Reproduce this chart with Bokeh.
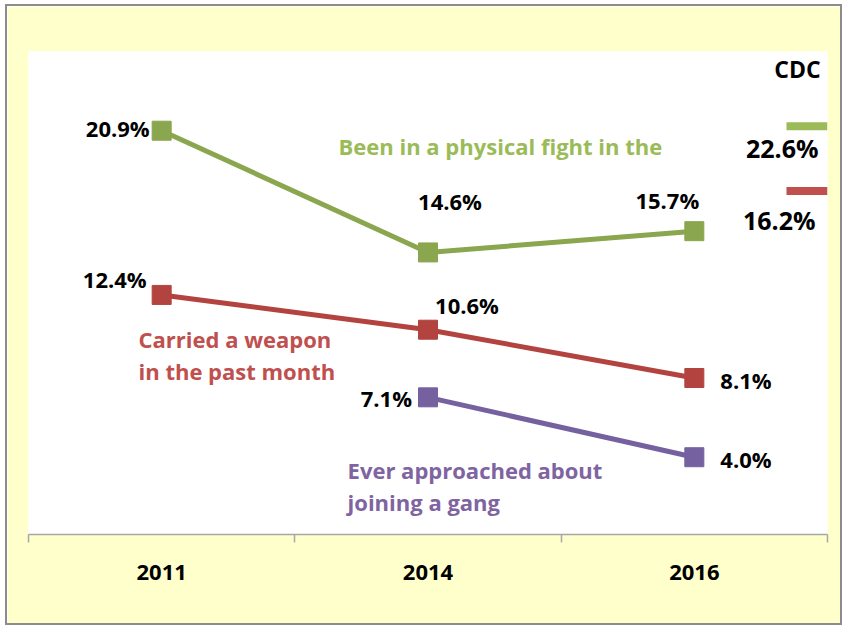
from bokeh.plotting import figure
from bokeh.models import Range1d, LinearAxis, FixedTicker, Label
from bokeh.core.properties import value
from bokeh.embed import file_html
from bokeh.resources import INLINE

years = ["2011", "2014", "2016"]
fight = [20.9, 14.6, 15.7]
weapon = [12.4, 10.6, 8.1]
gang_years = ["2014", "2016"]
gang = [7.1, 4.0]
cdc_labels = ["22.6%", "16.2%"]
cdc_values = [22.6, 16.2]

GREEN, GREEN_T = "#8AA64E", "#9BBB59"
RED, RED_T = "#B3433F", "#C0504D"
PURPLE, PURPLE_T = "#7560A0", "#8064A2"
FONT = "Open Sans"

# category -> slot centre on a numeric axis (one slot per year)
pos = {y: i + 0.5 for i, y in enumerate(years)}
centers = [pos[y] for y in years]
edges = [i for i in range(len(years) + 1)]

p = figure(width=837, height=621, x_range=Range1d(0, len(years)), y_range=Range1d(0, 25),
           output_backend="svg", toolbar_location=None, x_axis_location=None, y_axis_location=None,
           min_border_left=21, min_border_right=17, min_border_top=45, min_border_bottom=93)
p.margin = (4, 0, 0, 5)
p.styles = {"border": "2px solid #8C8C8C"}
p.background_fill_color = "white"
p.border_fill_color = "#FFFFCC"
p.outline_line_color = None
p.xgrid.visible = False
p.ygrid.visible = False

xaxis = LinearAxis(ticker=FixedTicker(ticks=centers, minor_ticks=edges),
                   major_label_overrides={c: y for c, y in zip(centers, years)},
                   major_tick_out=0, major_tick_in=0,
                   minor_tick_out=8, minor_tick_in=0,
                   minor_tick_line_color="#A6A6A6", minor_tick_line_width=1.5,
                   axis_line_color="#A6A6A6", axis_line_width=1.5,
                   major_label_text_font=FONT, major_label_text_font_style="bold",
                   major_label_text_font_size="22px", major_label_text_color="black",
                   major_label_standoff=22)
p.add_layout(xaxis, "below")

for ys_cat, ys, c in [(years, fight, GREEN), (years, weapon, RED), (gang_years, gang, PURPLE)]:
    xs = [pos[y] for y in ys_cat]
    p.line(xs, ys, line_color=c, line_width=5)
    p.scatter(xs, ys, marker="square", size=19, fill_color=c, line_color=c)

# data labels
lab_x = [pos[y] for y in years + years + gang_years]
lab_y = fight + weapon + gang
lab_t = ["%.1f%%" % v for v in lab_y]
xoff = [-12, 22, -27, -15, 39, 26, -16, 26]
yoff = [-3, -51, -31, -16, -25, 2, 1, 2]
align = ["right", "center", "center", "right", "center", "left", "right", "left"]
for x, y, t, dx, dy, a in zip(lab_x, lab_y, lab_t, xoff, yoff, align):
    p.text([x], [y], text=[t], x_offset=dx, y_offset=dy, text_align=a, text_baseline="middle",
           text_font=value(FONT), text_font_style="bold", text_font_size="22px", text_color="black")

def lbl(x, y, t, color, size="22px", align="left"):
    p.add_layout(Label(x=x, y=y, text=t, text_color=color, text_font=FONT, text_font_style="bold",
                       text_font_size=size, text_align=align, text_baseline="middle"))

lbl(1.164, 20.1, "Been in a physical fight in the", GREEN_T)
lbl(0.413, 10.1, "Carried a weapon", RED_T)
lbl(0.413, 8.45, "in the past month", RED_T)
lbl(1.198, 3.35, "Ever approached about", PURPLE_T)
lbl(1.198, 1.70, "joining a gang", PURPLE_T)

# CDC reference
lbl(2.974, 24.12, "CDC", "black", size="23px", align="right")
p.segment(x0=[2.846, 2.846], y0=[21.13, 17.78], x1=[3.0, 3.0], y1=[21.13, 17.78],
          line_color=[GREEN_T, RED_T], line_width=8)
lbl(2.966, 20.0, cdc_labels[0], "black", size="25px", align="right")
lbl(2.955, 16.3, cdc_labels[1], "black", size="25px", align="right")

open("out.html", "w").write(file_html(p, INLINE))
